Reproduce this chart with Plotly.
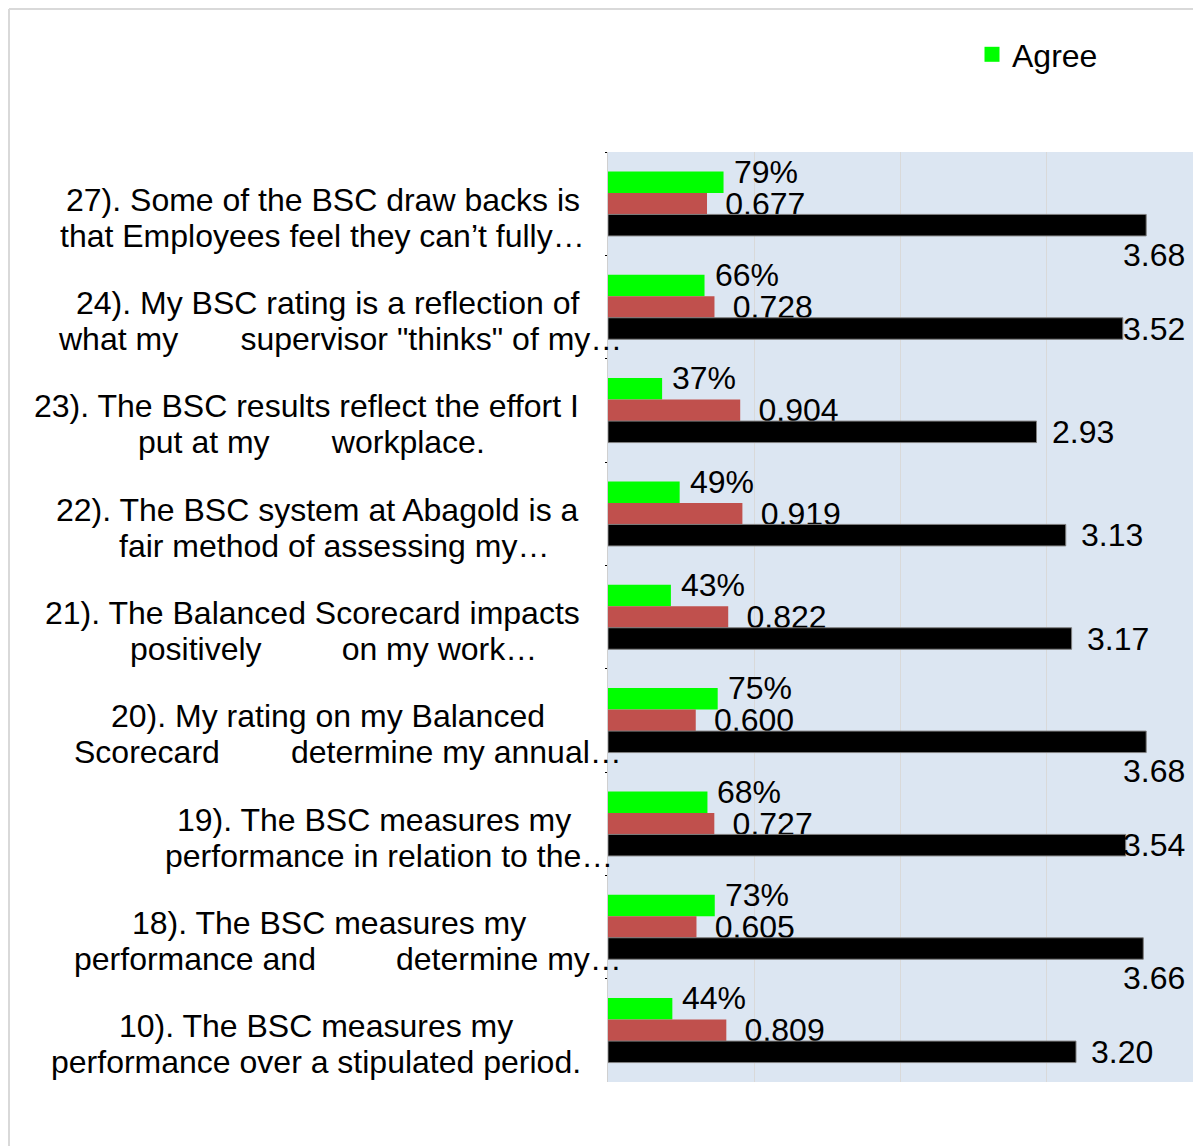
import plotly.graph_objects as go

# ---------------- data ----------------
categories = ["Q27", "Q24", "Q23", "Q22", "Q21", "Q20", "Q19", "Q18", "Q10"]
label_line1 = [
    "27). Some of the BSC draw backs is",
    "24). My BSC rating is a reflection of",
    "23). The BSC results reflect the effort I",
    "22). The BSC system at Abagold is a",
    "21). The Balanced Scorecard impacts",
    "20). My rating on my Balanced",
    "19). The BSC measures my",
    "18). The BSC measures my",
    "10). The BSC measures my",
]
label_line2 = [
    "that Employees feel they can’t fully…",
    "what my\u00a0\u00a0\u00a0\u00a0\u00a0\u00a0\u00a0supervisor \"thinks\" of my…",
    "put at my\u00a0\u00a0\u00a0\u00a0\u00a0\u00a0\u00a0workplace.",
    "fair method of assessing my…",
    "positively\u00a0\u00a0\u00a0\u00a0\u00a0\u00a0\u00a0\u00a0\u00a0on my work…",
    "Scorecard\u00a0\u00a0\u00a0\u00a0\u00a0\u00a0\u00a0\u00a0determine my annual…",
    "performance in relation to the…",
    "performance and\u00a0\u00a0\u00a0\u00a0\u00a0\u00a0\u00a0\u00a0\u00a0determine my…",
    "performance over a stipulated period.",
]
agree = [0.79, 0.66, 0.37, 0.49, 0.43, 0.75, 0.68, 0.73, 0.44]
std_dev = [0.677, 0.728, 0.904, 0.919, 0.822, 0.600, 0.727, 0.605, 0.809]
mean = [3.68, 3.52, 2.93, 3.13, 3.17, 3.68, 3.54, 3.66, 3.20]

# ---------------- layout constants ----------------
W, H = 1193, 1146
L, R, T, B = 608, 0, 152, 64
PW = W - L - R
PH = H - T - B
FONT = "Liberation Sans, Arial, sans-serif"
FS = 32
LABEL_FS = 32
line1_left_px = [66, 76, 34, 56, 45, 111, 177, 132, 119]
line2_left_px = [60, 58, 138, 119, 130, 74, 165, 74, 51]


def px_to_paper_x(px):
    return (px - L) / PW


def px_to_paper_y(py):
    return 1 - (py - T) / PH


fig = go.Figure()
fig.add_trace(go.Bar(
    y=categories, x=agree, orientation="h", name="Agree",
    marker=dict(color="#00ff00", line=dict(width=0)),
    showlegend=False, hoverinfo="x",
))
fig.add_trace(go.Bar(
    y=categories, x=std_dev, orientation="h", name="Std. Deviation",
    marker=dict(color="#c0504d", line=dict(width=0)),
    texttemplate="\u00a0\u2009%{x:.3f}", textposition="outside",
    constraintext="none", cliponaxis=False,
    textfont=dict(family=FONT, size=FS, color="black"),
    showlegend=False,
))
fig.add_trace(go.Bar(
    y=categories, x=mean, orientation="h", name="Mean",
    marker=dict(color="#000000", line=dict(color="#7f7f7f", width=1)),
    showlegend=False,
))
# legend entry for "Agree" (square swatch)
fig.add_trace(go.Scatter(
    x=[None], y=[None], mode="markers", name="Agree",
    marker=dict(symbol="square", size=15, color="#00ff00"),
    showlegend=True, hoverinfo="skip",
))

annotations = []
# green value labels
for c, v in zip(categories, agree):
    annotations.append(dict(
        x=v, y=c, xref="x", yref="y", text=f"{v:.0%}", showarrow=False,
        xanchor="left", yanchor="middle", xshift=8, yshift=32,
        font=dict(family=FONT, size=FS, color="black"),
    ))
# black (mean) value labels
for c, v in zip(categories, mean):
    if v > 3.6:
        ann = dict(x=4, xanchor="right", xshift=-6, yshift=-51)
    elif v > 3.45:
        ann = dict(x=4, xanchor="right", xshift=-6, yshift=-21.5)
    else:
        ann = dict(x=v, xanchor="left", xshift=13, yshift=-21.5)
    ann.update(dict(
        y=c, xref="x", yref="y", text=f"{v:.2f}", showarrow=False,
        yanchor="middle", font=dict(family=FONT, size=FS, color="black"),
    ))
    annotations.append(ann)
# category labels (two lines each)
for c, t1, t2, x1, x2 in zip(categories, label_line1, label_line2,
                             line1_left_px, line2_left_px):
    annotations.append(dict(
        x=px_to_paper_x(x1 - 2), y=c, xref="paper", yref="y", text=t1,
        showarrow=False, xanchor="left", yanchor="middle", yshift=4,
        font=dict(family=FONT, size=LABEL_FS, color="black"),
    ))
    annotations.append(dict(
        x=px_to_paper_x(x2 - 2), y=c, xref="paper", yref="y", text=t2,
        showarrow=False, xanchor="left", yanchor="middle", yshift=-32,
        font=dict(family=FONT, size=LABEL_FS, color="black"),
    ))

shapes = [
    dict(type="line", xref="paper", yref="paper",
         x0=px_to_paper_x(9), x1=px_to_paper_x(W + 5),
         y0=px_to_paper_y(9), y1=px_to_paper_y(9),
         line=dict(color="#d9d9d9", width=2)),
    dict(type="line", xref="paper", yref="paper",
         x0=px_to_paper_x(9), x1=px_to_paper_x(9),
         y0=px_to_paper_y(9), y1=px_to_paper_y(H + 5),
         line=dict(color="#d9d9d9", width=2)),
]

fig.update_layout(
    width=W, height=H,
    margin=dict(l=L, r=R, t=T, b=B),
    paper_bgcolor="white",
    plot_bgcolor="#dce6f2",
    barmode="group", bargap=0.376, bargroupgap=0,
    font=dict(family=FONT, size=FS, color="black"),
    showlegend=True,
    legend=dict(
        x=px_to_paper_x(972), y=px_to_paper_y(27), xanchor="left", yanchor="top",
        bgcolor="rgba(0,0,0,0)", font=dict(family=FONT, size=32, color="black"),
        itemwidth=30,
    ),
    annotations=annotations,
    shapes=shapes,
)
fig.update_xaxes(
    range=[0, 4], showticklabels=False, showgrid=True, gridcolor="#d9d9d9",
    gridwidth=1, dtick=1, zeroline=False, showline=False, ticks="",
)
fig.update_yaxes(
    type="category", range=[len(categories) - 0.5, -0.5], autorange=False,
    showticklabels=False, showgrid=False,
    showline=True, linecolor="#d0d0d0", linewidth=1,
    ticks="outside", tickson="boundaries", ticklen=2, tickcolor="black",
    zeroline=False,
)

fig.write_html("out.html")
